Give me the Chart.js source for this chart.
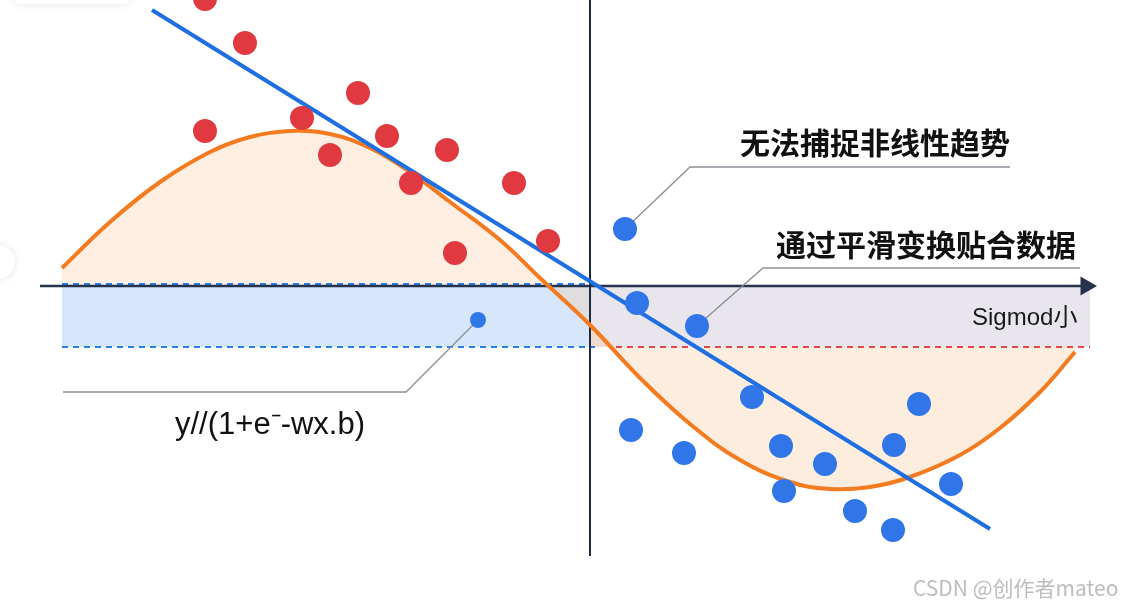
<!DOCTYPE html>
<html>
<head>
<meta charset="utf-8">
<script src="https://cdn.jsdelivr.net/npm/chart.js@4.4.1/dist/chart.umd.min.js"></script>
<style>
  html, body { margin: 0; padding: 0; background: #ffffff; }
  #wrap { width: 1124px; height: 608px; }
</style>
</head>
<body>
<div id="wrap"><canvas id="chart" width="1124" height="608"></canvas></div>
<script>
'use strict';

// Data. Origin = axis crossing, 1 unit = 100 px.
const redX = [-3.85, -3.45, -3.85, -2.88, -2.32, -2.60, -2.03, -1.79, -1.43, -1.35, -0.76, -0.42];
const redY = [2.87, 2.43, 1.55, 1.68, 1.93, 1.31, 1.50, 1.03, 1.36, 0.33, 1.03, 0.45];

const blueX = [0.35, 0.47, 1.07, 1.62, 0.41, 0.94, 1.91, 2.35, 1.94, 2.65, 3.03, 3.04, 3.29, 3.61];
const blueY = [0.57, -0.17, -0.40, -1.11, -1.44, -1.67, -1.60, -1.78, -2.05, -2.25, -2.44, -1.59, -1.18, -1.98];

const smallDotX = [-1.12];
const smallDotY = [-0.34];

// linear fit line (two ends)
const fitX = [-4.38, 4.00];
const fitY = [2.76, -2.43];

// sigmoid-ish smooth curve
const curveX = [-5.28, -4.80, -4.30, -3.80, -3.40, -3.00, -2.60, -2.20, -1.80, -1.40, -0.90, -0.50,
  0.00, 0.50, 1.00, 1.50, 2.00, 2.40, 2.80, 3.20, 3.70, 4.10, 4.50, 4.85];
const curveY = [0.18, 0.64, 1.04, 1.34, 1.49, 1.55, 1.52, 1.38, 1.14, 0.84, 0.46, 0.08,
  -0.39, -0.92, -1.38, -1.74, -1.96, -2.03, -2.01, -1.91, -1.69, -1.42, -1.06, -0.66];

// band / threshold levels
const upperLevel = 0.02;
const lowerLevel = -0.61;
const bandLeft = [-5.28, 0.05];
const bandRight = [0.00, 5.00];
const redDashX = [0.26, 5.00];

// callout leader lines
const calloutAX = [0.35, 1.00, 4.20];
const calloutAY = [0.57, 1.19, 1.19];
const calloutBX = [1.07, 1.73, 4.90];
const calloutBY = [-0.40, 0.18, 0.18];
const calloutCX = [-1.12, -1.84, -5.27];
const calloutCY = [-0.34, -1.06, -1.06];

const labelTexts = ['无法捕捉非线性趋势', '通过平滑变换贴合数据', 'Sigmod小', 'y//(1+e⁻-wx.b)'];

const pts = (xs, ys) => xs.map((x, i) => ({ x, y: ys[i] }));
const flat = (xs, v) => xs.map(x => ({ x, y: v }));

const curvePts = pts(curveX, curveY);
const leftCurve = curvePts.filter(p => p.x <= 0);
const rightCurve = curvePts.filter(p => p.x >= 0);

const CJK = '"Noto Sans CJK SC", "Noto Sans", sans-serif';
const LAT = '"Liberation Sans", "Noto Sans CJK SC", sans-serif';

const textPlugin = {
  id: 'texts',
  beforeDraw(chart) {
    const { ctx } = chart;
    ctx.save();
    ctx.fillStyle = '#ffffff';
    ctx.fillRect(0, 0, chart.width, chart.height);
    // faint UI leftovers of the screenshot
    ctx.shadowColor = 'rgba(0,0,0,0.10)';
    ctx.shadowBlur = 8;
    ctx.beginPath();
    ctx.roundRect(14, -14, 116, 18, 6);
    ctx.fill();
    ctx.beginPath();
    ctx.arc(-2, 262, 17, 0, Math.PI * 2);
    ctx.fill();
    ctx.restore();
  },
  afterDatasetsDraw(chart) {
    const { ctx, scales: { x, y } } = chart;
    const put = (text, vx, vy, font, color) => {
      ctx.font = font;
      ctx.fillStyle = color;
      ctx.textBaseline = 'middle';
      ctx.textAlign = 'left';
      ctx.fillText(text, x.getPixelForValue(vx), y.getPixelForValue(vy));
    };
    ctx.save();
    put(labelTexts[0], 1.50, 1.43, '600 30px ' + CJK, '#111111');
    put(labelTexts[1], 1.86, 0.41, '600 30px ' + CJK, '#111111');
    put(labelTexts[2], 3.82, -0.32, '24px ' + LAT, '#1a1a1a');
    put(labelTexts[3], -4.15, -1.39, '31px ' + LAT, '#111111');
    put('CSDN @创作者mateo', 3.23, -3.02, '21px ' + CJK, '#bdbdbd');
    ctx.restore();
  }
};

const lineDs = (data, color, width, extra) => Object.assign({
  data, borderColor: color, borderWidth: width, pointRadius: 0, fill: false, tension: 0
}, extra || {});

new Chart(document.getElementById('chart'), {
  type: 'line',
  data: {
    datasets: [
      // dots on top
      { data: pts(redX, redY), showLine: false, pointRadius: 12, pointBorderWidth: 0,
        pointBackgroundColor: '#e03a40', order: 1 },
      { data: pts(blueX, blueY), showLine: false, pointRadius: 12, pointBorderWidth: 0,
        pointBackgroundColor: '#3076e8', order: 1 },
      { data: pts(smallDotX, smallDotY), showLine: false, pointRadius: 8, pointBorderWidth: 0,
        pointBackgroundColor: '#2f78ea', order: 1 },
      // fit line and curve
      lineDs(pts(fitX, fitY), '#1f6fe2', 4, { order: 2 }),
      lineDs(curvePts, '#f47b20', 4, { tension: 0.4, order: 3 }),
      // callouts
      lineDs(pts(calloutAX, calloutAY), '#8b8e95', 1.3, { order: 4 }),
      lineDs(pts(calloutBX, calloutBY), '#8b8e95', 1.3, { order: 4 }),
      lineDs(pts(calloutCX, calloutCY), '#8b8e95', 1.3, { order: 4 }),
      // axes
      lineDs(pts([-5.50, 4.96], [0, 0]), '#27324d', 2.5, {
        pointRadius: [0, 11], pointStyle: 'triangle', rotation: 90,
        pointBackgroundColor: '#27324d', pointBorderWidth: 0, order: 5 }),
      lineDs(pts([0, 0], [2.95, -2.70]), '#1e2840', 2, { order: 5 }),
      // dashed thresholds
      lineDs(flat(bandLeft, upperLevel), '#2b7de9', 2, { borderDash: [6, 5], order: 6 }),
      lineDs(flat(bandLeft, lowerLevel), '#2b7de9', 2, { borderDash: [6, 5], order: 6 }),
      lineDs(flat(redDashX, lowerLevel), '#e0474c', 2, { borderDash: [6, 5], order: 6 }),
      // fills under the curve
      lineDs(leftCurve, 'rgba(0,0,0,0)', 0, { tension: 0.4, fill: { value: 0 },
        backgroundColor: 'rgba(250,196,150,0.28)', order: 7 }),
      lineDs(rightCurve, 'rgba(0,0,0,0)', 0, { tension: 0.4, fill: { value: lowerLevel },
        backgroundColor: 'rgba(250,196,150,0.30)', order: 7 }),
      // bands
      lineDs(flat([-5.28, 0], 0), 'rgba(0,0,0,0)', 0, { fill: { value: lowerLevel },
        backgroundColor: 'rgba(200,222,250,0.75)', order: 8 }),
      lineDs(flat(bandRight, 0), 'rgba(0,0,0,0)', 0, { fill: { value: lowerLevel },
        backgroundColor: 'rgba(226,222,232,0.8)', order: 8 })
    ]
  },
  options: {
    responsive: false,
    animation: false,
    events: [],
    layout: { padding: 0, autoPadding: false },
    plugins: { legend: { display: false }, tooltip: { enabled: false } },
    scales: {
      x: { type: 'linear', min: -5.9, max: 5.34, display: false },
      y: { type: 'linear', min: -3.22, max: 2.86, display: false }
    }
  },
  plugins: [textPlugin]
});
</script>
</body>
</html>
